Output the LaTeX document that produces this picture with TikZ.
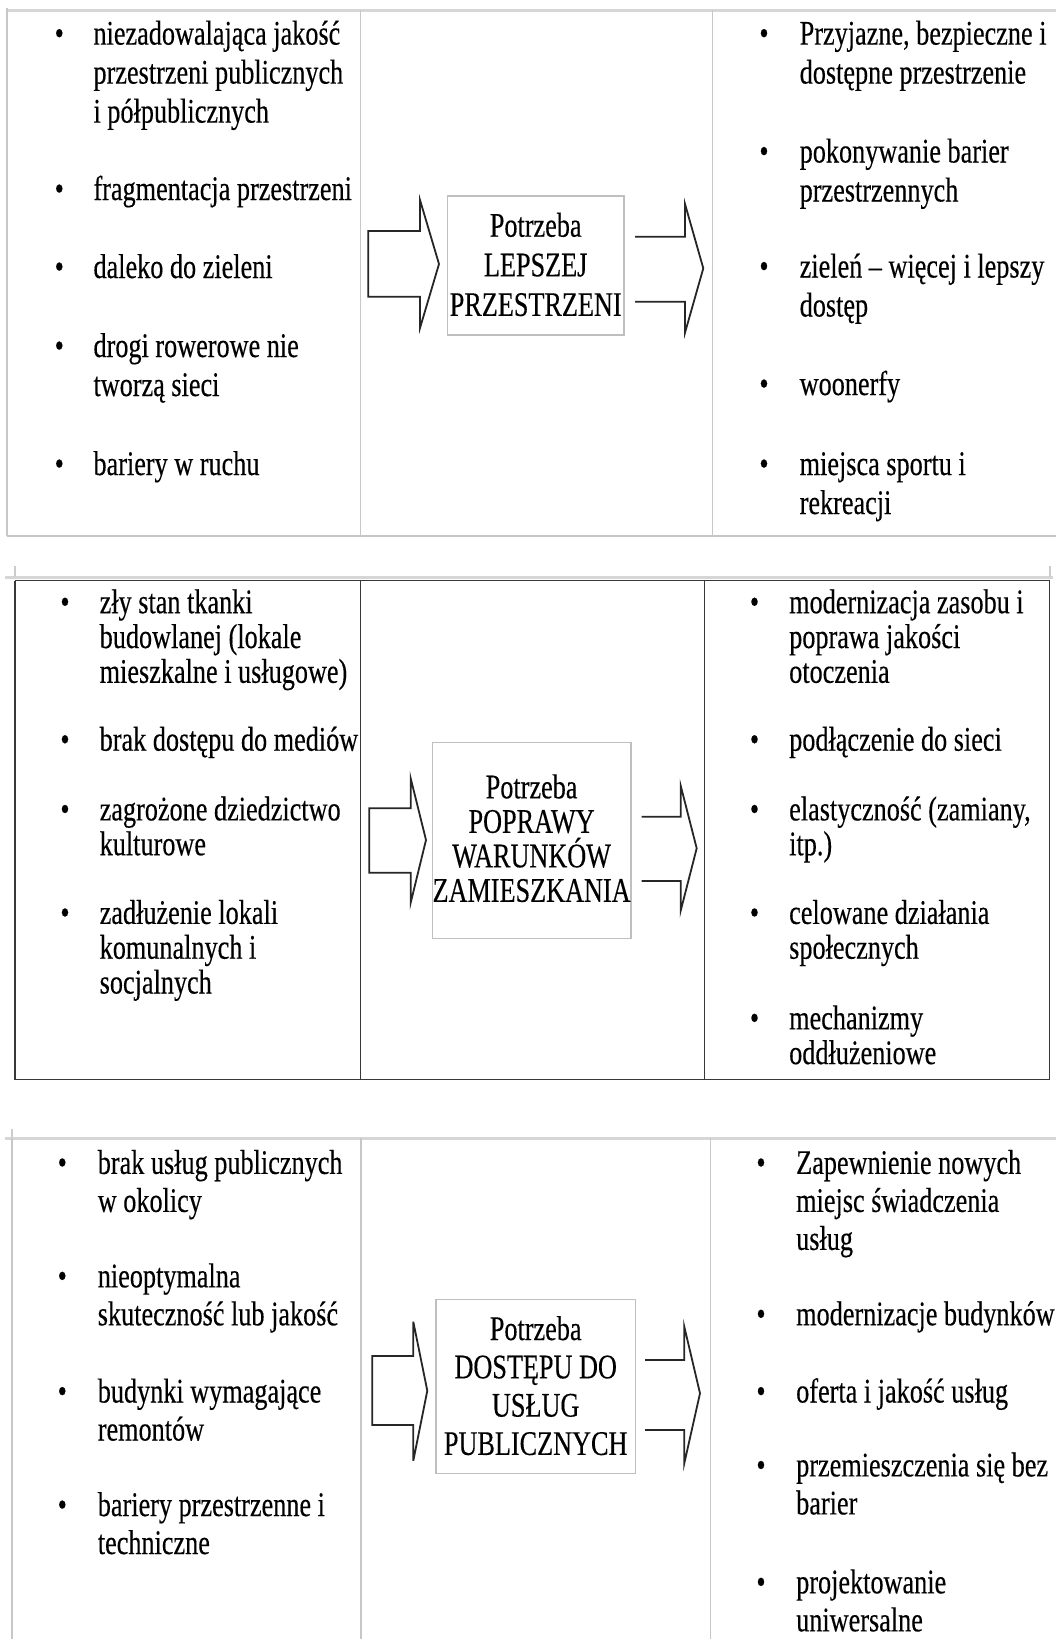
\documentclass[tikz,border=0pt]{standalone}
\usepackage{fontspec}
\setmainfont{Liberation Serif}[FakeStretch=0.76,FakeBold=0.3]
\begin{document}
\begin{tikzpicture}[x=1pt,y=-1pt,
  tA/.style={font=\fontsize{34.5}{39}\selectfont},
  tB/.style={font=\fontsize{34.5}{34.8}\selectfont},
  tC/.style={font=\fontsize{34.5}{38}\selectfont},
  itm/.style={anchor=base west, align=left, inner sep=0pt},
  bul/.style={anchor=base, inner sep=0pt},
  lgrid/.style={draw=black!22, line width=1.5pt},
  ltop/.style={draw=black!16, line width=3pt},
  dgrid/.style={draw=black!78, line width=1.8pt},
  needbox/.style={draw=black!25, line width=1.4pt, fill=white, inner sep=0pt},
  needtxt/.style={anchor=base, align=center, inner sep=0pt},
  blockarrow/.style={draw=black!85, line width=1.8pt, line join=miter}]
\useasboundingbox (0,0) rectangle (1056,1639);
\fill[white] (0,0) rectangle (1056,1639);
% (multi-line nodes are placed by the baseline of their LAST line)

% ---------------- table 1 ----------------
\draw[ltop] (7,10) -- (1056,10);
\draw[lgrid] (7,8) -- (7,536) (360.5,10) -- (360.5,536) (712.5,10) -- (712.5,536);
\draw[lgrid] (7,536) -- (1056,536);

\node[bul,tA] (b1a) at (59.3,44.6) {•};
\node[itm,tA] (l1a) at (93.3,122.6) {niezadowalająca jakość\\przestrzeni publicznych\\i półpublicznych};
\node[bul,tA] (b1b) at (59.3,200) {•};
\node[itm,tA] (l1b) at (93.3,200) {fragmentacja przestrzeni};
\node[bul,tA] (b1c) at (59.3,278) {•};
\node[itm,tA] (l1c) at (93.3,278) {daleko do zieleni};
\node[bul,tA] (b1d) at (59.3,357) {•};
\node[itm,tA] (l1d) at (93.3,396) {drogi rowerowe nie\\tworzą sieci};
\node[bul,tA] (b1e) at (59.3,475) {•};
\node[itm,tA] (l1e) at (93.3,475) {bariery w ruchu};

\node[bul,tA] (c1a) at (764,44.6) {•};
\node[itm,tA] (r1a) at (799.5,83.6) {Przyjazne, bezpieczne i\\dostępne przestrzenie};
\node[bul,tA] (c1b) at (764,162.5) {•};
\node[itm,tA] (r1b) at (799.5,201.5) {pokonywanie barier\\przestrzennych};
\node[bul,tA] (c1c) at (764,277.5) {•};
\node[itm,tA] (r1c) at (799.5,316.5) {zieleń – więcej i lepszy\\dostęp};
\node[bul,tA] (c1d) at (764,395) {•};
\node[itm,tA] (r1d) at (799.5,395) {woonerfy};
\node[bul,tA] (c1e) at (764,475) {•};
\node[itm,tA] (r1e) at (799.5,514) {miejsca sportu i\\rekreacji};

\node[needbox, minimum width=176.5, minimum height=139] (n1) at (535.7,265.5) {};
\node[needtxt,font=\fontsize{34.5}{39.6}\selectfont] (t1) at (n1.center |- 0,315.9) {Potrzeba\\LEPSZEJ\\PRZESTRZENI};
\draw[blockarrow] (420,200) -- (439,264) -- (420,328) -- (420,296.7) -- (368.3,296.7) -- (368.3,231) -- (420,231) -- cycle;
\draw[blockarrow] (635,236.7) -- (685,236.7) -- (685,204) -- (703.3,268.3) -- (685,332.7) -- (685,301.7) -- (635,301.7);

% ---------------- table 2 ----------------
\draw[ltop] (5,577.5) -- (1053,577.5);
\draw[draw=black!20, line width=1.5pt] (15,566) -- (15,577) (1050,566) -- (1050,577);
\draw[dgrid] (15,580.5) -- (1050,580.5);
\draw[dgrid] (15,580.5) -- (15,1079.5) (360.5,580.5) -- (360.5,1079.5) (704.5,580.5) -- (704.5,1079.5) (1049.5,580.5) -- (1049.5,1079.5);
\draw[dgrid] (15,1079.5) -- (1050,1079.5);

\node[bul,tB] (b2a) at (65,613.2) {•};
\node[itm,tB] (l2a) at (99.5,682.8) {zły stan tkanki\\budowlanej (lokale\\mieszkalne i usługowe)};
\node[bul,tB] (b2b) at (65,750.7) {•};
\node[itm,tB] (l2b) at (99.5,750.7) {brak dostępu do mediów};
\node[bul,tB] (b2c) at (65,820.4) {•};
\node[itm,tB] (l2c) at (99.5,855.2) {zagrożone dziedzictwo\\kulturowe};
\node[bul,tB] (b2d) at (65,923.9) {•};
\node[itm,tB] (l2d) at (99.5,993.5) {zadłużenie lokali\\komunalnych i\\socjalnych};

\node[bul,tB] (c2a) at (754.5,613.2) {•};
\node[itm,tB] (r2a) at (789,682.8) {modernizacja zasobu i\\poprawa jakości\\otoczenia};
\node[bul,tB] (c2b) at (754.5,750.7) {•};
\node[itm,tB] (r2b) at (789,750.7) {podłączenie do sieci};
\node[bul,tB] (c2c) at (754.5,820.4) {•};
\node[itm,tB] (r2c) at (789,855.2) {elastyczność (zamiany,\\itp.)};
\node[bul,tB] (c2d) at (754.5,923.9) {•};
\node[itm,tB] (r2d) at (789,958.7) {celowane działania\\społecznych};
\node[bul,tB] (c2e) at (754.5,1029.3) {•};
\node[itm,tB] (r2e) at (789,1064.1) {mechanizmy\\oddłużeniowe};

\node[needbox, minimum width=198.7, minimum height=196] (n2) at (531.6,840.5) {};
\node[needtxt,font=\fontsize{34.5}{34.5}\selectfont] (t2) at (n2.center |- 0,901.8) {Potrzeba\\POPRAWY\\WARUNKÓW\\ZAMIESZKANIA};
\draw[blockarrow] (410.7,778.3) -- (426,840) -- (410.7,902.7) -- (410.7,872.7) -- (369.3,872.7) -- (369.3,808.3) -- (410.7,808.3) -- cycle;
\draw[blockarrow] (641.7,816.7) -- (680.7,816.7) -- (680.7,785.7) -- (696.7,848.3) -- (680.7,910.7) -- (680.7,881) -- (641.7,881);

% ---------------- table 3 ----------------
\draw[ltop] (5,1138) -- (1056,1138);
\draw[draw=black!20, line width=1.5pt] (12,1129) -- (12,1137);
\draw[lgrid] (12,1138) -- (12,1639) (361,1138) -- (361,1639) (710.5,1138) -- (710.5,1639);

\node[bul,tC] (b3a) at (62.3,1173.9) {•};
\node[itm,tC] (l3a) at (97.6,1211.9) {brak usług publicznych\\w okolicy};
\node[bul,tC] (b3b) at (62.3,1287.3) {•};
\node[itm,tC] (l3b) at (97.6,1325.3) {nieoptymalna\\skuteczność lub jakość};
\node[bul,tC] (b3c) at (62.3,1402.5) {•};
\node[itm,tC] (l3c) at (97.6,1440.5) {budynki wymagające\\remontów};
\node[bul,tC] (b3d) at (62.3,1516) {•};
\node[itm,tC] (l3d) at (97.6,1554) {bariery przestrzenne i\\techniczne};

\node[bul,tC] (c3a) at (761,1173.9) {•};
\node[itm,tC] (r3a) at (796,1249.9) {Zapewnienie nowych\\miejsc świadczenia\\usług};
\node[bul,tC] (c3b) at (761,1325.2) {•};
\node[itm,tC] (r3b) at (796,1325.2) {modernizacje budynków};
\node[bul,tC] (c3c) at (761,1402.5) {•};
\node[itm,tC] (r3c) at (796,1402.5) {oferta i jakość usług};
\node[bul,tC] (c3d) at (761,1476.4) {•};
\node[itm,tC] (r3d) at (796,1514.4) {przemieszczenia się bez\\barier};
\node[bul,tC] (c3e) at (761,1593.3) {•};
\node[itm,tC] (r3e) at (796,1631.3) {projektowanie\\uniwersalne};

\node[needbox, minimum width=199.3, minimum height=174] (n3) at (535.7,1386.3) {};
\node[needtxt,font=\fontsize{34.5}{38.3}\selectfont] (t3) at (n3.center |- 0,1454.9) {Potrzeba\\DOSTĘPU DO\\USŁUG\\PUBLICZNYCH};
\draw[blockarrow] (413.3,1321.7) -- (427.3,1390.7) -- (413.3,1460.7) -- (413.3,1425) -- (372.3,1425) -- (372.3,1356) -- (413.3,1356) -- cycle;
\draw[blockarrow] (645,1360) -- (684.3,1360) -- (684.3,1326.7) -- (700,1393.3) -- (684.3,1463.3) -- (684.3,1430) -- (645,1430);
\end{tikzpicture}
\end{document}
